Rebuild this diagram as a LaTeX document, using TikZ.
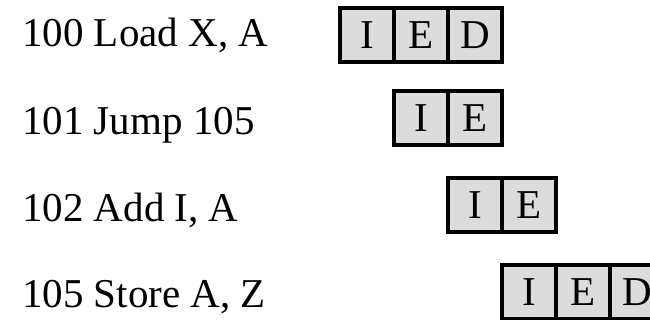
\documentclass[tikz,border=0pt]{standalone}
\usepackage{fontspec}
\setmainfont{Liberation Serif}
\begin{document}
\begin{tikzpicture}[x=1pt,y=1pt,
  cellbox/.style={draw=black, line width=3.5pt, fill=cellgray, minimum width=54pt, minimum height=54pt, inner sep=0pt, font=\fontsize{41}{41}\selectfont},
  instr/.style={anchor=base west, inner sep=0pt, font=\fontsize{41}{41}\selectfont}]
\definecolor{cellgray}{RGB}{220,220,220}
\clip (0,0) rectangle (650,320);
\fill[white] (0,0) rectangle (650,320);
% instructions
\node[instr] (t1) at (22,273) {100 Load X, A};
\node[instr] (t2) at (22,185) {101 Jump 105};
\node[instr] (t3) at (22,98) {102 Add I, A};
\node[instr] (t4) at (22,12) {105 Store A, Z};
% row 1
\node[cellbox] (c11) at (367,285) {I};
\node[cellbox] (c12) at (421,285) {E};
\node[cellbox] (c13) at (475,285) {D};
% row 2
\node[cellbox] (c21) at (421,202) {I};
\node[cellbox] (c22) at (475,202) {E};
% row 3
\node[cellbox] (c31) at (475,115) {I};
\node[cellbox] (c32) at (529,115) {E};
% row 4
\node[cellbox] (c41) at (529,28) {I};
\node[cellbox] (c42) at (583,28) {E};
\node[cellbox] (c43) at (637,28) {D};
\end{tikzpicture}
\end{document}
